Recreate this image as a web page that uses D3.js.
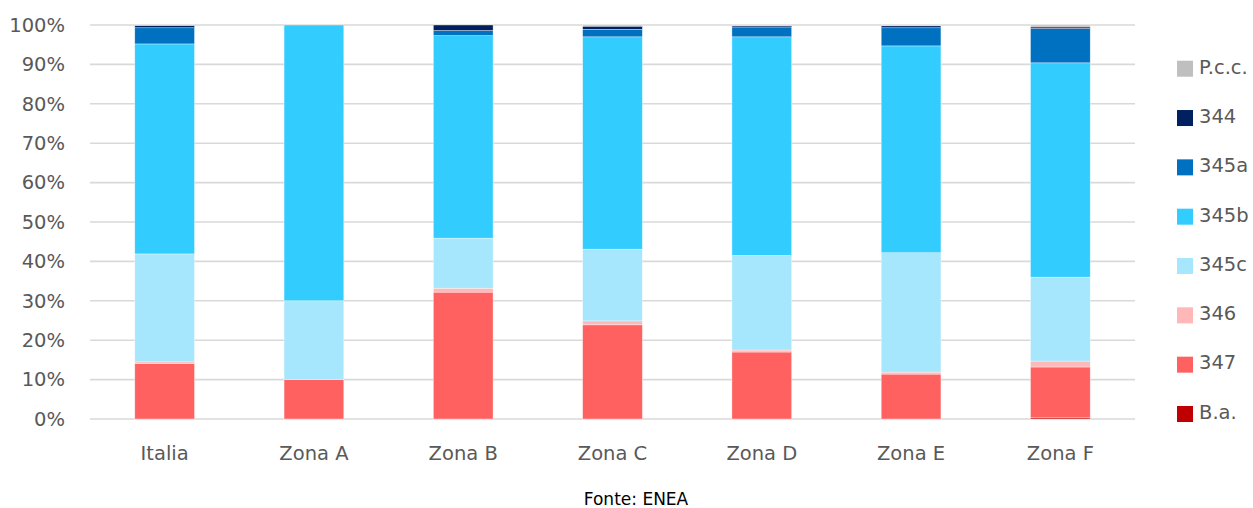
<!DOCTYPE html>
<html><head><meta charset="utf-8">
<script src="https://cdn.jsdelivr.net/npm/d3@7"></script>
<style>body{margin:0;background:#fff}text{font-family:"DejaVu Sans",sans-serif;fill:#595959}</style>
</head><body><svg id="c" width="1253" height="508"></svg>
<script>
const categories = ["Italia","Zona A","Zona B","Zona C","Zona D","Zona E","Zona F"];
const seriesNames = ["B.a.","347","346","345c","345b","345a","344","P.c.c."];
const seriesColors = ["#c00000","#ff6161","#ffb7b7","#a6e7fd","#33ccff","#0070c0","#002060","#bfbfbf"];
const valBa   = [0,   0,   0,   0,   0,   0,   0.3];
const val347  = [14.1,10,  32.2,23.9,17.0,11.4,12.9];
const val346  = [0.4, 0,   1.0, 1.0, 0.5, 0.5, 1.5];
const val345c = [27.4,20,  12.7,18.2,24.0,30.3,21.3];
const val345b = [53.3,70,  51.4,53.9,55.5,52.5,54.4];
const val345a = [4.1, 0,   1.3, 1.9, 2.5, 4.6, 8.7];
const val344  = [0.6, 0,   1.4, 0.8, 0.3, 0.5, 0.4];
const valPcc  = [0.1, 0,   0,   0.3, 0.2, 0.2, 0.5];
const yTicks = [0,10,20,30,40,50,60,70,80,90,100];
const source = "Fonte: ENEA";

const allVals = [valBa,val347,val346,val345c,val345b,val345a,val344,valPcc];
const rows = categories.map((c,i)=>{const r={cat:c}; seriesNames.forEach((s,j)=>r[s]=allVals[j][i]); return r;});
const stack = d3.stack().keys(seriesNames)(rows);

const svg = d3.select("#c");
const x = d3.scaleBand().domain(categories).range([90,1135]).paddingInner(0.6).paddingOuter(0.3);
const y = d3.scaleLinear().domain([0,100]).range([419,25]);

svg.append("g").selectAll("line").data(yTicks).join("line")
  .attr("x1",90).attr("x2",1135).attr("y1",d=>y(d)).attr("y2",d=>y(d))
  .attr("stroke","#d9d9d9").attr("stroke-width",1.6);
svg.append("g").selectAll("text").data(yTicks).join("text")
  .attr("x",65).attr("y",d=>y(d)).attr("dy","0.35em").attr("text-anchor","end")
  .attr("font-size",19.5).text(d=>d+"%");

svg.append("g").selectAll("g").data(stack).join("g")
  .attr("fill",(d,i)=>seriesColors[i])
  .selectAll("rect").data(d=>d).join("rect")
  .attr("x",d=>x(d.data.cat)).attr("width",x.bandwidth())
  .attr("y",d=>y(d[1])).attr("height",d=>Math.max(0,y(d[0])-y(d[1])))
  .attr("stroke","#fff").attr("stroke-width",0.6).attr("stroke-opacity",0.6);

svg.append("g").selectAll("text").data(categories).join("text")
  .attr("x",d=>x(d)+x.bandwidth()/2).attr("y",453).attr("dy","0.35em")
  .attr("text-anchor","middle").attr("font-size",19.5).text(d=>d);

const legY = d3.scalePoint().domain(seriesNames.slice().reverse()).range([68.7,414]);
const lg = svg.append("g").selectAll("g").data(seriesNames).join("g")
  .attr("transform",d=>`translate(1177,${legY(d)})`);
lg.append("rect").attr("x",0).attr("y",-8).attr("width",16).attr("height",16)
  .attr("fill",(d,i)=>seriesColors[i]);
lg.append("text").attr("x",22).attr("y",-2).attr("dy","0.35em").attr("font-size",19.5).text(d=>d);

svg.append("text").attr("x",636).attr("y",499).attr("dy","0.35em").attr("text-anchor","middle")
  .attr("font-size",17).style("fill","#000").text(source);
</script></body></html>
